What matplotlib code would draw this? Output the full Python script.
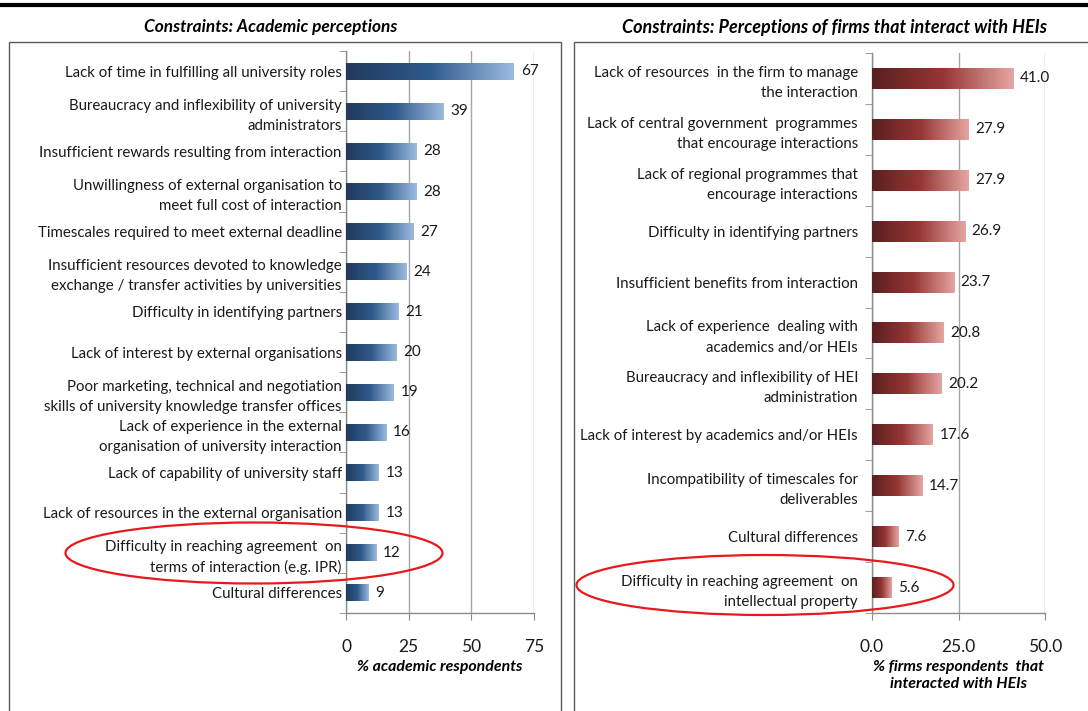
import numpy as np
import matplotlib
matplotlib.use("Agg")
import matplotlib.pyplot as plt
from matplotlib.colors import LinearSegmentedColormap
from matplotlib.patches import Ellipse, Rectangle
from matplotlib.lines import Line2D

plt.rcParams['font.family'] = ['Lato', 'DejaVu Sans']

# academic side
acad_labels = [
    "Lack of time in fulfilling all university roles",
    "Bureaucracy and inflexibility of university\nadministrators",
    "Insufficient rewards resulting from interaction",
    "Unwillingness of external organisation to\nmeet full cost of interaction",
    "Timescales required to meet external deadline",
    "Insufficient resources devoted to knowledge\nexchange / transfer activities by universities",
    "Difficulty in identifying partners",
    "Lack of interest by external organisations",
    "Poor marketing, technical and negotiation\nskills of university knowledge transfer offices",
    "Lack of experience in the external\norganisation of university interaction",
    "Lack of capability of university staff",
    "Lack of resources in the external organisation",
    "Difficulty in reaching agreement  on\nterms of interaction (e.g. IPR)",
    "Cultural differences",
]
acad_values = [67, 39, 28, 28, 27, 24, 21, 20, 19, 16, 13, 13, 12, 9]
acad_ticks = [0, 25, 50, 75]

# firm side
firm_labels = [
    "Lack of resources  in the firm to manage\nthe interaction",
    "Lack of central government  programmes\nthat encourage interactions",
    "Lack of regional programmes that\nencourage interactions",
    "Difficulty in identifying partners",
    "Insufficient benefits from interaction",
    "Lack of experience  dealing with\nacademics and/or HEIs",
    "Bureaucracy and inflexibility of HEI\nadministration",
    "Lack of interest by academics and/or HEIs",
    "Incompatibility of timescales for\ndeliverables",
    "Cultural differences",
    "Difficulty in reaching agreement  on\nintellectual property",
]
firm_values = [41.0, 27.9, 27.9, 26.9, 23.7, 20.8, 20.2, 17.6, 14.7, 7.6, 5.6]
firm_ticks = [0.0, 25.0, 50.0]

W, H = 1088, 711
fig = plt.figure(figsize=(W / 100, H / 100), dpi=100)

blue_cm = LinearSegmentedColormap.from_list("b", ["#213a5c", "#2f5a8c", "#9cbadf"])
red_cm = LinearSegmentedColormap.from_list("r", ["#5a2020", "#963634", "#e6a6a3"])
grad = np.linspace(0, 1, 256).reshape(1, -1)

GRID = "#a6a6a6"
SPINE = "#8c8c8c"


def panel(rect, labels, values, ticks, cmap, fmt, xlabel, bar_h, ypad):
    ax = fig.add_axes(rect)
    n = len(values)
    for i, v in enumerate(values):
        ax.imshow(grad, cmap=cmap, aspect='auto', interpolation='bicubic',
                  extent=[0, v, i + bar_h / 2, i - bar_h / 2], zorder=3)
        ax.text(v + (ticks[-1] - ticks[0]) * 0.037, i, fmt.format(v),
                va='center', ha='left', fontsize=11, color='#1a1a1a', zorder=4)
    ax.set_xlim(ticks[0], ticks[-1])
    ax.set_ylim(n - 0.5, -0.5)
    ax.set_yticks(range(n))
    ax.set_yticklabels(labels, fontsize=10.8, linespacing=1.55, color='#1a1a1a')
    ax.set_yticks(np.arange(n + 1) - 0.5, minor=True)
    ax.tick_params(axis='y', which='major', length=0, pad=ypad)
    ax.tick_params(axis='y', which='minor', length=5, color=SPINE, direction='out')
    ax.set_xticks(ticks)
    ax.set_xticklabels([fmt.format(t) for t in ticks], fontsize=12.5, color='#1a1a1a')
    ax.tick_params(axis='x', length=5, color=SPINE, direction='out', pad=14)
    ax.grid(axis='x', color=GRID, lw=1, zorder=0)
    ax.set_axisbelow(True)
    for s in ('top', 'right'):
        ax.spines[s].set_visible(False)
    for s in ('left', 'bottom'):
        ax.spines[s].set_color(SPINE)
        ax.spines[s].set_linewidth(1)
    ax.set_xlabel(xlabel, fontsize=11.4, fontweight='bold', fontstyle='italic',
                  labelpad=3, linespacing=1.35)
    return ax


ax1 = panel([346 / W, 1 - 613 / H, 188 / W, 562 / H], acad_labels, acad_values,
            acad_ticks, blue_cm, "{:.0f}", "% academic respondents", 0.42, 3)
ax2 = panel([872 / W, 1 - 613 / H, 173 / W, 560 / H], firm_labels, firm_values,
            firm_ticks, red_cm, "{:.1f}",
            "% firms respondents  that\ninteracted with HEIs", 0.41, 10)

# titles
fig.text(271 / W, 1 - 27 / H, "Constraints: Academic perceptions", ha='center', va='center',
         fontsize=12.4, fontweight='bold', fontstyle='italic')
fig.text(834 / W, 1 - 27 / H, "Constraints: Perceptions of firms that interact with HEIs",
         ha='center', va='center', fontsize=13, fontweight='bold', fontstyle='italic')

# panel boxes and top rule
fig.add_artist(Rectangle((9 / W, -0.01), 552 / W, 1.01 - 42 / H, transform=fig.transFigure,
                         fill=False, ec='#595959', lw=1))
fig.add_artist(Rectangle((574 / W, -0.01), 0.6, 1.01 - 42 / H, transform=fig.transFigure,
                         fill=False, ec='#595959', lw=1))
fig.add_artist(Line2D([0, 1], [1 - 5 / H, 1 - 5 / H], transform=fig.transFigure,
                      color='black', lw=3))

# red ellipses
fig.add_artist(Ellipse((254 / W, 1 - 553 / H), 377 / W, 61 / H, transform=fig.transFigure,
                       fill=False, ec='#e8191c', lw=1.6))
fig.add_artist(Ellipse((765 / W, 1 - 585 / H), 377 / W, 60 / H, transform=fig.transFigure,
                       fill=False, ec='#e8191c', lw=1.6))

fig.savefig("out.png", dpi=100)
